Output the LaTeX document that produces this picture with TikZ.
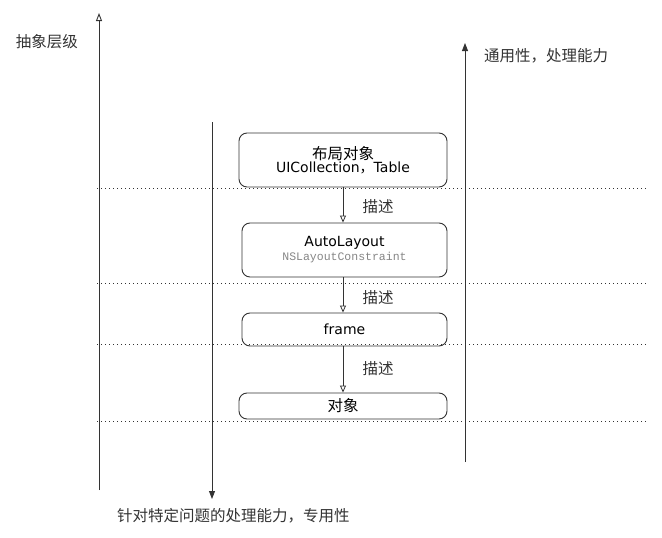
\documentclass[tikz,border=0pt]{standalone}
\usepackage{fontspec}
\setmainfont{DejaVu Sans}
\setmonofont{Liberation Mono}
\newfontfamily\cjk{Noto Sans CJK SC}
\usetikzlibrary{arrows.meta}
\definecolor{ink}{HTML}{333333}
\definecolor{mono}{HTML}{858585}
\tikzset{
  box/.style={draw=ink, line width=0.9pt, rounded corners=8pt, align=center, inner sep=0pt, font=\fontsize{14}{15}\selectfont, text=black},
  lbl/.style={font=\cjk\fontsize{15.5}{17}\selectfont, text=ink, inner sep=0pt},
  axis/.style={draw=ink, line width=0.9pt},
  dotline/.style={draw=ink, line width=0.8pt, dash pattern=on 0.8pt off 3.2pt},
  link/.style={draw=ink, line width=0.8pt, -{Triangle[open,length=7pt,width=6pt]}}
}
\begin{document}
\begin{tikzpicture}[x=1pt,y=-1pt]
\useasboundingbox (0,0) rectangle (662,538);
% dotted lines
\coordinate (d1a) at (97,188); \coordinate (d1b) at (646,188);
\coordinate (d2a) at (97,283); \coordinate (d2b) at (646,283);
\coordinate (d3a) at (97,344); \coordinate (d3b) at (646,344);
\coordinate (d4a) at (97,421); \coordinate (d4b) at (646,421);
\draw[dotline] (d1a) -- (d1b);
\draw[dotline] (d2a) -- (d2b);
\draw[dotline] (d3a) -- (d3b);
\draw[dotline] (d4a) -- (d4b);
% axes
\coordinate (la) at (99,490); \coordinate (lb) at (99,13);
\draw[axis, -{Triangle[open,length=8pt,width=6pt]}] (la) -- (lb);
\coordinate (ma) at (212,122); \coordinate (mb) at (212,499);
\draw[axis, -{Triangle[length=8pt,width=6pt]}] (ma) -- (mb);
\coordinate (ra) at (465,462); \coordinate (rb) at (465,43);
\draw[axis, -{Triangle[length=8pt,width=6pt]}] (ra) -- (rb);
% labels
\node[lbl] (t1) at (47,42) {抽象层级};
\node[lbl, anchor=west] (t2) at (484,56) {通用性，处理能力};
\node[lbl, anchor=west] (t3) at (117,516) {针对特定问题的处理能力，专用性};
% boxes
\node[box, minimum width=208pt, minimum height=54pt] (b1) at (343,160)
  {{\cjk\fontsize{15.5}{15}\selectfont 布局对象}\\[-1.5pt]UICollection{\cjk ，}Table};
\node[box, minimum width=205pt, minimum height=54pt] (b2) at (344.5,250)
  {AutoLayout\\[-1pt]{\ttfamily\fontsize{11.5}{12}\selectfont\color{mono}NSLayoutConstraint}};
\node[box, minimum width=205pt, minimum height=33pt] (b3) at (344.5,329.5) {frame};
\node[box, minimum width=208pt, minimum height=26pt, font=\cjk\fontsize{15.5}{17}\selectfont] (b4) at (343,406) {对象};
% links
\draw[link] (b1.south) -- (b1.south |- b2.north);
\draw[link] (b1.south |- b2.south) -- (b1.south |- b3.north);
\draw[link] (b1.south |- b3.south) -- (b1.south |- b4.north);
\node[lbl] (m1) at (378,207) {描述};
\node[lbl] (m2) at (378,298) {描述};
\node[lbl] (m3) at (378,369) {描述};
\end{tikzpicture}
\end{document}
